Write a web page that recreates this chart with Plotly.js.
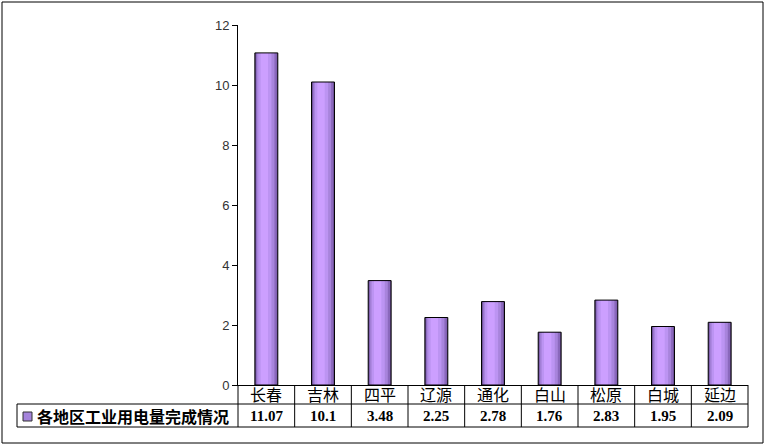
<!DOCTYPE html>
<html>
<head>
<meta charset="utf-8">
<script src="https://cdn.plot.ly/plotly-3.0.1.min.js"></script>
<style>html,body{margin:0;padding:0;background:#fff;}#chart{width:766px;height:445px;}</style>
</head>
<body>
<div id="chart"></div>
<script>
const categories = ["长春", "吉林", "四平", "辽源", "通化", "白山", "松原", "白城", "延边"];
const values = [11.07, 10.1, 3.48, 2.25, 2.78, 1.76, 2.83, 1.95, 2.09];
const seriesName = "各地区工业用电量完成情况";
const yTicks = [0, 2, 4, 6, 8, 10, 12];

// pixel helpers (plot area: x 238..748, y 25..385)
const L = 238, R = 748, T = 25, B = 385;
const px = x => (x - L) / (R - L);
const py = y => (B - y) / (B - T);

// layered bars to mimic the horizontal gradient fill
const layers = [
  {w: 0.405, c: 0.0, color: "#5e4484"},
  {w: 0.37, c: 0.0, color: "#8a68bc"},
  {w: 0.31, c: -0.012, color: "#a884dc"},
  {w: 0.23, c: -0.025, color: "#bc94f2"},
  {w: 0.13, c: -0.035, color: "#cc9fff"}
];
const traces = layers.map(l => ({
  type: "bar", x: categories, y: values,
  width: l.w, offset: l.c - l.w / 2,
  marker: {color: l.color, line: {width: 0}},
  showlegend: false, hoverinfo: "skip"
}));
traces.push({
  type: "bar", x: categories, y: values,
  width: 0.405, offset: -0.2025,
  marker: {color: "rgba(0,0,0,0)", line: {width: 1, color: "#000"}},
  showlegend: false, hoverinfo: "skip"
});

const n = categories.length;
const shapes = [];
const line = {color: "#000", width: 1};
// outer frame
shapes.push({type: "rect", xref: "paper", yref: "paper", x0: px(2), x1: px(763), y0: py(2), y1: py(443), line: line});
// table horizontal lines
shapes.push({type: "line", xref: "paper", yref: "paper", x0: px(17), x1: 1, y0: py(404), y1: py(404), line: line});
shapes.push({type: "line", xref: "paper", yref: "paper", x0: px(17), x1: 1, y0: py(427), y1: py(427), line: line});
// table vertical lines
shapes.push({type: "line", xref: "paper", yref: "paper", x0: px(17), x1: px(17), y0: py(404), y1: py(427), line: line});
for (let i = 0; i <= n; i++) {
  shapes.push({type: "line", xref: "paper", yref: "paper", x0: i / n, x1: i / n, y0: 0, y1: py(427), line: line});
}
// legend key
shapes.push({type: "rect", xref: "paper", yref: "paper", x0: px(23), x1: px(32), y0: py(412), y1: py(421),
  fillcolor: "#a584dc", line: {color: "#333", width: 1}});

const annotations = [];
categories.forEach((c, i) => {
  annotations.push({
    x: c, y: py(394.5), xref: "x", yref: "paper",
    text: c, showarrow: false, xanchor: "center", yanchor: "middle",
    font: {family: "Noto Sans CJK SC, sans-serif", size: 16, color: "#000"}
  });
  annotations.push({
    x: c, y: py(416), xref: "x", yref: "paper",
    text: "<b>" + String(values[i]) + "</b>", showarrow: false,
    xanchor: "center", yanchor: "middle",
    font: {family: "Liberation Serif, serif", size: 15, color: "#000"}
  });
});
annotations.push({
  x: px(35), y: py(416), xref: "paper", yref: "paper",
  text: "<b>" + seriesName + "</b>", showarrow: false,
  xanchor: "left", yanchor: "middle",
  font: {family: "Noto Sans CJK SC, sans-serif", size: 16, color: "#000"}
});

const layout = {
  width: 766, height: 445,
  margin: {l: L, r: 766 - R, t: T, b: 445 - B, pad: 0},
  paper_bgcolor: "#fff", plot_bgcolor: "#fff",
  barmode: "overlay",
  showlegend: false,
  xaxis: {
    type: "category", range: [-0.5, n - 0.5],
    showline: true, linecolor: "#000", linewidth: 1,
    ticks: "", showgrid: false, zeroline: false, showticklabels: false
  },
  yaxis: {
    range: [0, 12], tickvals: yTicks, ticktext: yTicks.map(String),
    showline: true, linecolor: "#000", linewidth: 1,
    ticks: "outside", ticklen: 5, tickcolor: "#000",
    showgrid: false, zeroline: false,
    tickfont: {family: "Liberation Sans, Arial, sans-serif", size: 13, color: "#333"}
  },
  shapes: shapes,
  annotations: annotations
};

Plotly.newPlot("chart", traces, layout, {staticPlot: true, displayModeBar: false});
</script>
</body>
</html>
